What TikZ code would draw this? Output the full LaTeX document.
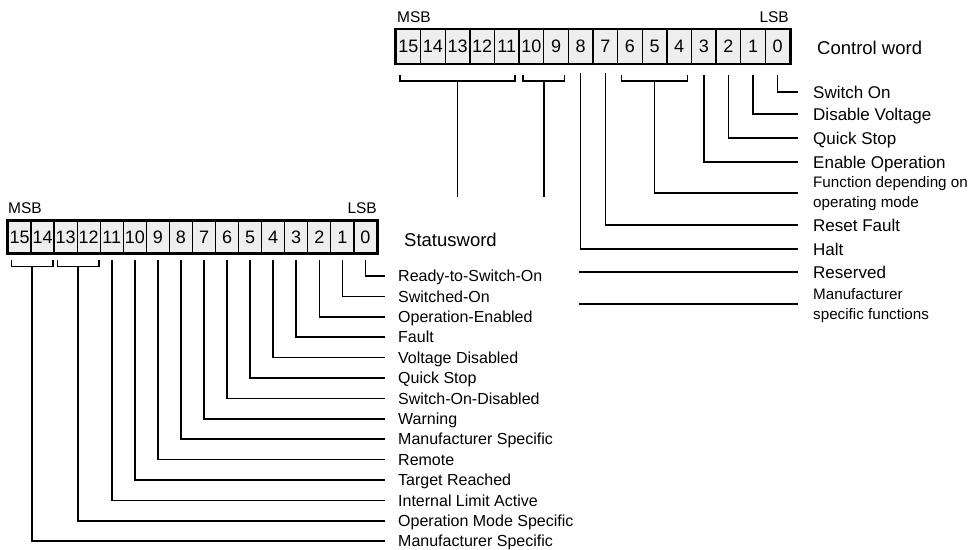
\documentclass[tikz,border=0pt]{standalone}
\usepackage{fontspec}
\setmainfont{Liberation Sans}
\usetikzlibrary{calc}
\tikzset{
  cellbase/.style={draw=black, fill=gray!13, line width=1.3pt, inner sep=0pt,
    font=\fontsize{18}{18}\selectfont, text height=12.9pt, text depth=0pt},
  ccell/.style={cellbase, minimum width=24.625pt, minimum height=34pt},
  scell/.style={cellbase, minimum width=23.06pt, minimum height=32pt},
  frame/.style={draw=black, line width=1.8pt},
  lab/.style={anchor=west, inner sep=0pt, font=\fontsize{17}{19}\selectfont, text height=12.2pt, text depth=0pt},
  slab/.style={lab, font=\fontsize{16}{19}\selectfont, text height=11.5pt},
  labtwo/.style={anchor=west, inner sep=0pt, align=left, font=\fontsize{15.2}{20}\selectfont},
  title/.style={anchor=west, inner sep=0pt, font=\fontsize{18.5}{20}\selectfont, text height=13.3pt, text depth=0pt},
  endtag/.style={inner sep=0pt, font=\fontsize{15.5}{16}\selectfont, text height=11.1pt, text depth=0pt},
  wire/.style={draw=black, line width=1.6pt}
}
\begin{document}
\begin{tikzpicture}[x=1pt,y=-1pt]
\useasboundingbox[fill=white] (0,0) rectangle (971,549);

% ---------- Control word register ----------
\foreach \b in {0,...,15} {
  \node[ccell] (c\b) at ({396+(15.5-\b)*24.625}, 46.5) {\b};
}
\draw[frame] (c15.north west) rectangle (c0.south east);
\node[endtag, anchor=west] (cmsb) at (397,17) {MSB};
\node[endtag, anchor=east] (clsb) at (789,17) {LSB};
\node[title] (ctitle) at (817,48) {Control word};

% control labels
\node[lab] (cl0) at (813,92) {Switch On};
\node[lab] (cl1) at (813,114) {Disable Voltage};
\node[lab] (cl2) at (813,138) {Quick Stop};
\node[lab] (cl3) at (813,162) {Enable Operation};
\node[labtwo] (cl4) at (813,194) {Function depending on\\operating mode};
\node[lab] (cl7) at (813,225) {Reset Fault};
\node[lab] (cl8) at (813,249) {Halt};
\node[lab] (clr) at (813,272) {Reserved};
\node[labtwo] (clm) at (813,306) {Manufacturer\\specific functions};

% control connectors
\foreach \b/\l in {0/cl0,1/cl1,2/cl2,3/cl3} {
  \draw[wire] ([yshift=-11pt]c\b.south) |- ([xshift=-15pt]\l.west);
}
\draw[wire] ([yshift=-9pt]c7.south) |- ([xshift=-15pt]cl7.west);
\draw[wire] ([yshift=-9pt]c8.south) |- ([xshift=-15pt]cl8.west);
% bracket 6..4
\draw[wire] ([xshift=4.5pt,yshift=-11pt]c6.south west) -- ++(0,6) -| ([xshift=-4.5pt,yshift=-11pt]c4.south east);
\draw[wire] ($(c5.south)+(0,17)$) |- ([xshift=-15pt,yshift=1pt]cl4.west);
% bracket 15..11
\draw[wire] ([xshift=4.5pt,yshift=-11pt]c15.south west) -- ++(0,6) -| ([xshift=-4.5pt,yshift=-11pt]c11.south east);
\coordinate (cfree1) at ($($(c15.south west)!0.5!(c11.south east)$)+(0,133)$);
\draw[wire] ($($(c15.south west)!0.5!(c11.south east)$)+(0,17)$) -- (cfree1);
% bracket 10..9
\draw[wire] ([xshift=4.5pt,yshift=-11pt]c10.south west) -- ++(0,6) -| ([xshift=-4.5pt,yshift=-11pt]c9.south east);
\coordinate (cfree2) at ($($(c10.south west)!0.5!(c9.south east)$)+(0,133)$);
\draw[wire] ($($(c10.south west)!0.5!(c9.south east)$)+(0,17)$) -- (cfree2);
% reserved / manufacturer
\coordinate (rsv) at (579,272);
\draw[wire] (rsv) -- ([xshift=-15pt]clr.west);
\coordinate (mfs) at (579,304);
\draw[wire] (mfs) -- ([xshift=-15pt]clm.west |- mfs);

% ---------- Statusword register ----------
\foreach \b in {0,...,15} {
  \node[scell] (s\b) at ({8+(15.5-\b)*23.06}, 237) {\b};
}
\draw[frame] (s15.north west) rectangle (s0.south east);
\node[endtag, anchor=west] (smsb) at (8,208) {MSB};
\node[endtag, anchor=east] (slsb) at (377,208) {LSB};
\node[title] (stitle) at (404,240) {Statusword};

\foreach \i/\t in {0/Ready-to-Switch-On,1/Switched-On,2/Operation-Enabled,3/Fault,
  4/Voltage Disabled,5/Quick Stop,6/Switch-On-Disabled,7/Warning,
  8/Manufacturer Specific,9/Remote,10/Target Reached,11/Internal Limit Active,
  12/Operation Mode Specific,13/Manufacturer Specific} {
  \node[slab] (sl\i) at (398,{276+20.4*\i}) {\t};
}
\foreach \b in {0,...,11} {
  \draw[wire] ([yshift=-6pt]s\b.south) |- ([xshift=-13pt]sl\b.west);
}
% bracket 13..12
\draw[wire] ([xshift=4pt,yshift=-6pt]s13.south west) -- ++(0,7) -| ([xshift=-2pt,yshift=-6pt]s12.south east);
\draw[wire] ($($(s13.south west)!0.5!(s12.south east)$)+(1,13)$) |- ([xshift=-13pt]sl12.west);
% bracket 15..14
\draw[wire] ([xshift=4pt,yshift=-6pt]s15.south west) -- ++(0,7) -| ([xshift=-2pt,yshift=-6pt]s14.south east);
\draw[wire] ($($(s15.south west)!0.5!(s14.south east)$)+(1,13)$) |- ([xshift=-13pt]sl13.west);
\end{tikzpicture}
\end{document}
